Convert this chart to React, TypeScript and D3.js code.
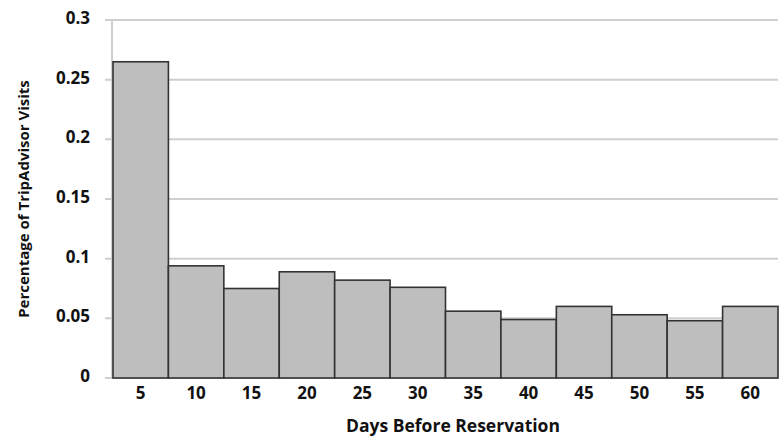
import React from "react";
import * as d3 from "d3";

const WIDTH = 782;
const HEIGHT = 438;
const FONT = "'Open Sans', 'Noto Sans', sans-serif";

const days = ["5", "10", "15", "20", "25", "30", "35", "40", "45", "50", "55", "60"];
const visitShare = [0.265, 0.094, 0.075, 0.089, 0.082, 0.076, 0.056, 0.049, 0.06, 0.053, 0.048, 0.06];
const yTicks = [0, 0.05, 0.1, 0.15, 0.2, 0.25, 0.3];

const margin = { top: 20, right: 4, bottom: 60, left: 113 };

export default function App() {
  const x = d3
    .scaleBand<string>()
    .domain(days)
    .range([margin.left, WIDTH - margin.right])
    .padding(0);
  const y = d3
    .scaleLinear()
    .domain([0, 0.3])
    .range([HEIGHT - margin.bottom, margin.top]);

  const fmt = (v: number) => (v === 0 ? "0" : String(+v.toFixed(2)));
  const plotRight = WIDTH - margin.right;

  return (
    <svg
      width={WIDTH}
      height={HEIGHT}
      style={{ position: "absolute", left: 0, top: 0, background: "#fff" }}
      fontFamily={FONT}
      fontWeight="bold"
    >
      {/* grid lines */}
      {yTicks.map((t) => (
        <line
          key={"g" + t}
          x1={margin.left - 8}
          x2={plotRight}
          y1={y(t)}
          y2={y(t)}
          stroke="#cfcfcf"
          strokeWidth={2}
        />
      ))}
      {/* y axis line */}
      <line
        x1={margin.left - 1}
        x2={margin.left - 1}
        y1={y(0.3)}
        y2={y(0)}
        stroke="#cfcfcf"
        strokeWidth={2}
      />
      {/* bars */}
      {days.map((d, i) => (
        <rect
          key={d}
          x={x(d)!}
          y={y(visitShare[i])}
          width={x.bandwidth()}
          height={y(0) - y(visitShare[i])}
          fill="#bebebe"
          stroke="#333"
          strokeWidth={1.6}
        />
      ))}
      {/* y tick labels */}
      {yTicks.map((t) => (
        <text
          key={"t" + t}
          x={90}
          y={y(t) + 4}
          textAnchor="end"
          fontSize={17}
          fill="#111"
        >
          {fmt(t)}
        </text>
      ))}
      {/* x tick labels */}
      {days.map((d) => (
        <text
          key={"x" + d}
          x={x(d)! + x.bandwidth() / 2}
          y={399}
          textAnchor="middle"
          fontSize={17}
          fill="#111"
        >
          {d}
        </text>
      ))}
      <text x={453} y={432} textAnchor="middle" fontSize={17.5} fill="#111">
        Days Before Reservation
      </text>
      <text
        transform={`translate(29, 199) rotate(-90)`}
        textAnchor="middle"
        fontSize={15}
        fill="#111"
      >
        Percentage of TripAdvisor Visits
      </text>
    </svg>
  );
}
